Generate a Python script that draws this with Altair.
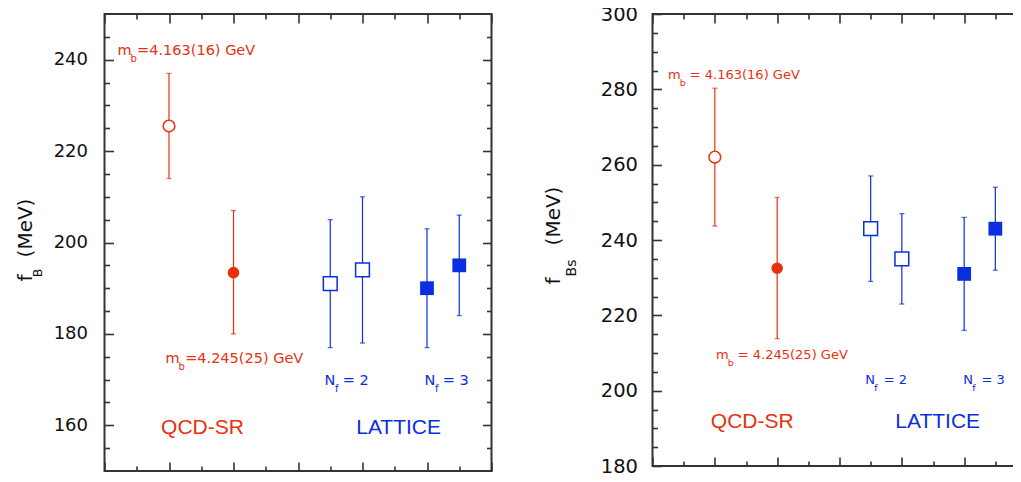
import altair as alt
import pandas as pd

RED = "#e8300f"
BLUE = "#0b2ee0"
FRAME = "#333333"
SANS = "DejaVu Sans"
HELV = "Liberation Sans"

# ---------------- data ----------------
x_pos = [2, 4, 7, 8, 10, 11]
method = ["QCD-SR", "QCD-SR", "LATTICE", "LATTICE", "LATTICE", "LATTICE"]
marker = ["open", "filled", "open", "open", "filled", "filled"]

fB = [225.5, 193.4, 191.0, 194.0, 190.0, 195.0]
fB_lo = [214.0, 180.0, 177.0, 178.0, 177.0, 184.0]
fB_hi = [237.0, 207.0, 205.0, 210.0, 203.0, 206.0]

fBs = [262.0, 232.5, 243.0, 235.0, 231.0, 243.0]
fBs_lo = [243.7, 213.8, 229.0, 223.0, 216.0, 232.0]
fBs_hi = [280.3, 251.3, 257.0, 247.0, 246.0, 254.0]

x_domain = [0, 12]
x_major = [0, 2, 4, 6, 8, 10, 12]
x_minor = [1, 3, 5, 7, 9, 11]

fB_domain = [150, 250]
fB_labels = [160, 180, 200, 220, 240]
fB_minor = [155, 165, 170, 175, 185, 190, 195, 205, 210, 215, 225, 230, 235, 245]

fBs_domain = [180, 300]
fBs_labels = [180, 200, 220, 240, 260, 280, 300]
fBs_minor = [185, 190, 195, 205, 210, 215, 225, 230, 235, 245, 250, 255,
             265, 270, 275, 285, 290, 295]

mb_high = "=4.163(16) GeV"
mb_low = "=4.245(25) GeV"
mb_high_r = "= 4.163(16) GeV"
mb_low_r = "= 4.245(25) GeV"

# annotation anchors (data coordinates)
left_ann = {"mb1": (0.40, 241.9), "mb2": (1.89, 174.6), "nf2": (6.82, 169.6),
            "nf3": (9.92, 169.6), "qcd": (3.04, 159.5), "lat": (9.12, 159.5)}
right_ann = {"mb1": (0.50, 283.7), "mb2": (2.04, 209.4), "nf2": (6.83, 202.9),
             "nf3": (9.97, 202.9), "qcd": (3.20, 191.6), "lat": (9.15, 191.6)}


def panel(vals, lo, hi, ydom, ylabels, yminor, W, H, ann, style):
    df = pd.DataFrame({"x": x_pos, "method": method, "marker": marker,
                       "v": vals, "lo": lo, "hi": hi})
    xs = alt.Scale(domain=x_domain, nice=False, zero=False)
    ys = alt.Scale(domain=ydom, nice=False, zero=False)
    mdom = ["QCD-SR", "LATTICE"]
    color = alt.Color("method:N", scale=alt.Scale(domain=mdom, range=[RED, BLUE]), legend=None)
    shape = alt.Shape("method:N", scale=alt.Scale(domain=mdom, range=["circle", "square"]),
                      legend=None)
    msize = alt.Size("method:N", scale=alt.Scale(domain=mdom, range=style["msize"]),
                     legend=None)

    def tax(orient, values, size, offset):
        return alt.Axis(orient=orient, values=values, tickSize=size, offset=offset,
                        labels=False, domain=False, title=None, grid=False,
                        tickColor=FRAME, tickWidth=1.6)

    ylab = alt.Axis(orient="left", values=ylabels, ticks=False, domain=False,
                    labelPadding=style["lpad"], labelFontSize=style["lsize"],
                    labelFont=SANS, labelColor="#111111", title=None, grid=False)

    base = alt.Chart(df)
    rules = base.mark_rule(strokeWidth=1.2).encode(
        x=alt.X("x:Q", scale=xs, axis=tax("top", x_major, 9, -H)),
        y=alt.Y("lo:Q", scale=ys, axis=ylab), y2="hi:Q", color=color)
    cap_lo = base.mark_tick(orient="horizontal", size=5, thickness=1.3).encode(
        x=alt.X("x:Q", scale=xs, axis=tax("top", x_minor, 5, -H)),
        y=alt.Y("lo:Q", scale=ys, axis=tax("right", ylabels, 9, -W)), color=color)
    cap_hi = base.mark_tick(orient="horizontal", size=5, thickness=1.3).encode(
        x=alt.X("x:Q", scale=xs, axis=tax("bottom", x_major, 9, -H)),
        y=alt.Y("hi:Q", scale=ys, axis=tax("right", yminor, 5, -W)), color=color)
    pts_open = base.transform_filter(alt.datum.marker == "open").mark_point(
        filled=False, fill="white", strokeWidth=1.5, opacity=1).encode(
        x=alt.X("x:Q", scale=xs, axis=tax("bottom", x_minor, 5, -H)),
        y=alt.Y("v:Q", scale=ys, axis=tax("left", ylabels, 9, -W)),
        color=color, shape=shape, size=msize)
    pts_fill = base.transform_filter(alt.datum.marker == "filled").mark_point(
        filled=True, opacity=1).encode(
        x=alt.X("x:Q", scale=xs, axis=None),
        y=alt.Y("v:Q", scale=ys, axis=tax("left", yminor, 5, -W)),
        color=color, shape=shape, size=msize)

    layers = [rules, cap_lo, cap_hi, pts_open, pts_fill]

    def txt(pos, text, color, size, font=SANS, dx=0, dy=0, align="left"):
        d = pd.DataFrame({"x": [pos[0]], "y": [pos[1]]})
        return alt.Chart(d).mark_text(
            text=text, color=color, fontSize=size, font=font, dx=dx, dy=dy,
            align=align, baseline="middle").encode(
            x=alt.X("x:Q", scale=xs, axis=None), y=alt.Y("y:Q", scale=ys, axis=None))

    s, ss = style["small"], style["sub"]
    for key, rest in (("mb1", style["mb1"]), ("mb2", style["mb2"])):
        p = ann[key]
        layers += [txt(p, "m", RED, s),
                   txt(p, "b", RED, ss, dx=style["mdx"], dy=style["sdy"]),
                   txt(p, rest, RED, s, dx=style["rdx"])]
    for key, num in (("nf2", "= 2"), ("nf3", "= 3")):
        p = ann[key]
        layers += [txt(p, "N", BLUE, s),
                   txt(p, "f", BLUE, ss, dx=style["ndx"], dy=style["sdy"]),
                   txt(p, num, BLUE, s, dx=style["nrdx"])]
    layers += [txt(ann["qcd"], "QCD-SR", RED, 21, font=HELV, align="center"),
               txt(ann["lat"], "LATTICE", BLUE, 21, font=HELV, align="center")]

    one = pd.DataFrame({"k": [0]})

    def rot(text, size, xpx, ypx):
        return alt.Chart(one).mark_text(
            text=text, angle=270, fontSize=size, font=SANS, color="#111111",
            align="center", baseline="alphabetic").encode(
            x=alt.value(xpx), y=alt.value(ypx))

    t = style["title"]
    layers += [rot("f", 20, t["bx"], t["fy"]),
               rot(t["sub"], t["subsize"], t["sbx"], t["sy"]),
               rot("(MeV)", 20, t["bx"], t["my"])]

    return alt.layer(*layers).resolve_scale(x="shared", y="shared").resolve_axis(
        x="independent", y="independent").properties(width=W, height=H)


left_style = dict(lpad=17, lsize=18, msize=[135, 190], small=14.5, sub=10, mdx=13,
                  sdy=8, rdx=19.7, ndx=10.5, nrdx=18.3, mb1=mb_high, mb2=mb_low,
                  title=dict(bx=-73, fy=264, sub="B", subsize=12.5, sbx=-63, sy=259, my=214))
right_style = dict(lpad=15, lsize=19.5, msize=[127, 175], small=13, sub=9.5, mdx=11.7,
                   sdy=8, rdx=21.7, ndx=9, nrdx=18.3, mb1=mb_high_r, mb2=mb_low_r,
                   title=dict(bx=-93, fy=267, sub="Bs", subsize=14, sbx=-77, sy=254, my=202))

left = panel(fB, fB_lo, fB_hi, fB_domain, fB_labels, fB_minor, 387, 457, left_ann, left_style)
right = panel(fBs, fBs_lo, fBs_hi, fBs_domain, fBs_labels, fBs_minor, 374, 452, right_ann, right_style)

# the right frame runs past the picture edge, as in the original figure
chart = alt.hconcat(left, right, spacing=161, bounds="flush").properties(
    padding={"left": 6.5, "top": -5, "right": -16, "bottom": -4.5}
).configure_view(stroke=FRAME, strokeWidth=2).configure_axis(grid=False)

chart.save("out.html", embed_options={"renderer": "svg", "actions": False})
